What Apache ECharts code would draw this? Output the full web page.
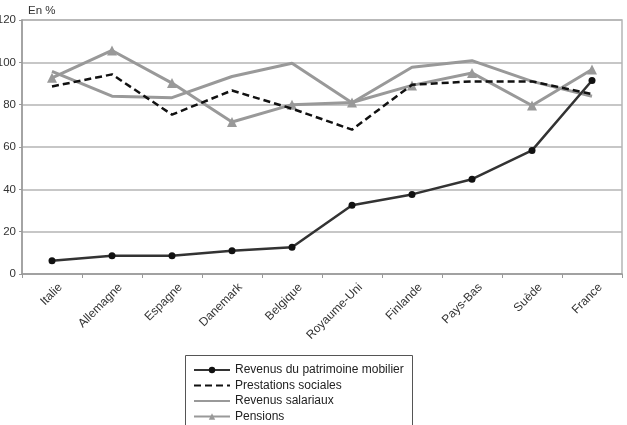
<!DOCTYPE html>
<html><head><meta charset="utf-8">
<script src="https://cdn.jsdelivr.net/npm/echarts@6/dist/echarts.min.js"></script>
<style>html,body{margin:0;padding:0;background:#fff}#c{width:627px;height:425px}</style>
</head><body><div id="c"></div>
<script>
const categories = ['Italie','Allemagne','Espagne','Danemark','Belgique','Royaume-Uni','Finlande','Pays-Bas','Suède','France'];
const patrimoine = [6.3, 8.6, 8.6, 11, 12.6, 32.5, 37.6, 44.8, 58.4, 91.4];
const prestations = [88.6, 94.3, 75.3, 86.7, 78.1, 68.2, 89.4, 91, 91, 85];
const salariaux = [95.7, 84, 83.3, 93.3, 99.6, 80.9, 97.7, 100.8, 91, 84];
const pensions = [92.7, 105.6, 90.2, 71.8, 80, 81, 89.1, 95, 79.6, 96.6];
const yTicks = [0, 20, 40, 60, 80, 100, 120];

const font = 'Liberation Sans, Arial, sans-serif';
const chart = echarts.init(document.getElementById('c'));
chart.setOption({
  animation: false,
  textStyle: { fontFamily: font },
  grid: { left: 22, right: 5, top: 20, bottom: 151, show: true, borderColor: '#b5b5b5', borderWidth: 1.5,
          containLabel: false, outerBoundsMode: 'none' },
  title: { text: 'En %', left: 23, top: 0, textStyle: { fontSize: 11.5, fontWeight: 'normal', color: '#333', fontFamily: font } },
  graphic: [{
    type: 'rect', silent: true,
    shape: { x: 185.5, y: 355.5, width: 227, height: 80 },
    style: { fill: 'none', stroke: '#555', lineWidth: 1 }
  }],
  legend: {
    orient: 'vertical', left: 193, top: 363,
    itemWidth: 36, itemHeight: 8, itemGap: 1.5,
    padding: 0,
    textStyle: { fontSize: 12, lineHeight: 14, color: '#222', fontFamily: font },
    data: [
      { name: 'Revenus du patrimoine mobilier' },
      { name: 'Prestations sociales', itemStyle: { opacity: 0 } },
      { name: 'Revenus salariaux', itemStyle: { opacity: 0 } },
      { name: 'Pensions' }
    ]
  },
  xAxis: {
    type: 'category', data: categories, boundaryGap: true,
    axisLine: { lineStyle: { color: '#999', width: 1.5 } },
    axisTick: { show: true, length: 4, lineStyle: { color: '#999' } },
    axisLabel: { rotate: 45, fontSize: 12, color: '#333', margin: 20, interval: 0, padding: [0, -12, 0, 0] }
  },
  yAxis: {
    type: 'value', min: 0, max: 120, interval: 20,
    axisLine: { show: true, lineStyle: { color: '#999', width: 1.5 } },
    axisTick: { show: true, length: 3, lineStyle: { color: '#999' } },
    axisLabel: { fontSize: 11.5, color: '#333', margin: 6, formatter: v => yTicks.includes(v) ? String(v) : '' },
    splitLine: { lineStyle: { color: '#b5b5b5', width: 1.5 } }
  },
  series: [
    { name: 'Pensions', type: 'line', data: pensions, symbol: 'triangle', symbolSize: 10,
      lineStyle: { color: '#999', width: 3 }, itemStyle: { color: '#999' }, z: 2 },
    { name: 'Revenus salariaux', type: 'line', data: salariaux, symbol: 'none',
      lineStyle: { color: '#999', width: 3 }, itemStyle: { color: '#999' }, z: 2 },
    { name: 'Prestations sociales', type: 'line', data: prestations, symbol: 'none',
      lineStyle: { color: '#111', width: 2.5, type: [7, 4] }, itemStyle: { color: '#111' }, z: 3 },
    { name: 'Revenus du patrimoine mobilier', type: 'line', data: patrimoine, symbol: 'circle', symbolSize: 7,
      lineStyle: { color: '#333', width: 2.5 }, itemStyle: { color: '#111' }, z: 4 }
  ]
});
</script>
</body></html>
